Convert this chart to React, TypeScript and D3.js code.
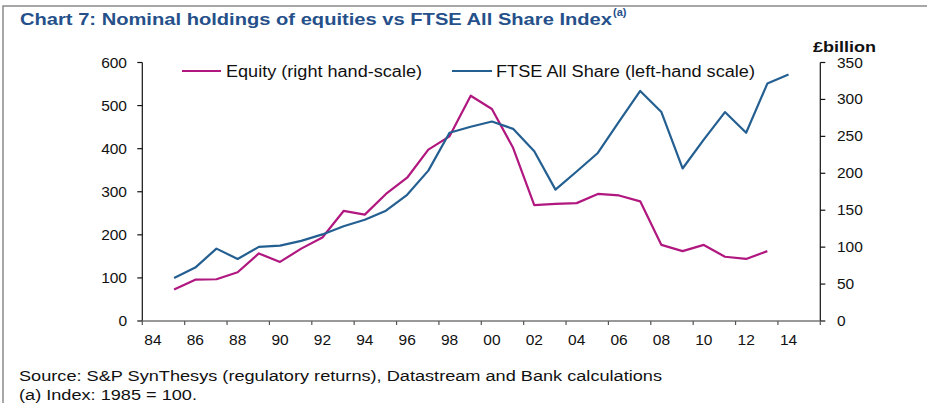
import React from 'react';
import * as d3 from 'd3';

// years the series are reported for
const years = [
  1985, 1986, 1987, 1988, 1989, 1990, 1991, 1992, 1993, 1994, 1995, 1996, 1997, 1998, 1999,
  2000, 2001, 2002, 2003, 2004, 2005, 2006, 2007, 2008, 2009, 2010, 2011, 2012, 2013, 2014,
];

// FTSE All Share index, 1985 = 100 (left-hand scale)
const ftse = [
  100, 124, 168, 144, 172, 175, 186, 201, 220, 235, 256, 293, 349, 437, 451,
  463, 446, 394, 305, 347, 390, 463, 534, 485, 354, 421, 485, 437, 551, 572,
];

// equity holdings, £billion (right-hand scale), no 2014 value
const equity = [
  42.5, 56, 56.5, 66, 91.5, 80, 98, 113, 149, 144, 172, 194, 232, 250, 305,
  287, 234.5, 157, 158.6, 159.6, 172, 170, 162, 103, 94.6, 103, 87, 84, 94.6,
];

const leftTicks = [0, 100, 200, 300, 400, 500, 600];
const rightTicks = [0, 50, 100, 150, 200, 250, 300, 350];
const yearTicks = d3.range(1984, 2017, 2);

const W = 927;
const H = 403;
const FONT = '"Liberation Sans", Arial, sans-serif';
const BLUE = '#245f91';
const MAGENTA = '#b0177f';

export default function App() {
  const x = d3.scaleLinear().domain([1984, 2016]).range([142.3, 820.3]);
  const yL = d3.scaleLinear().domain([0, 600]).range([321, 62.5]);
  const yR = d3.scaleLinear().domain([0, 350]).range([321, 62.5]);

  const ftseLine = d3
    .line<number>()
    .x((_, i) => x(years[i] + 0.5))
    .y((d) => yL(d));
  const equityLine = d3
    .line<number>()
    .x((_, i) => x(years[i] + 0.5))
    .y((d) => yR(d));

  return (
    <svg
      width={W}
      height={H}
      style={{ position: 'absolute', left: 0, top: 0, background: '#fff' }}
      fontFamily={FONT}
    >
      {/* frame */}
      <path d={`M3,${H} V6 H${W}`} fill="none" stroke="#8a8a8a" strokeWidth={1.5} />

      <text x={20} y={25} fontSize={16.5} fontWeight="bold" fill="#25508a" textLength={592} lengthAdjust="spacingAndGlyphs">
        Chart 7: Nominal holdings of equities vs FTSE All Share Index
      </text>
      <text x={613} y={16} fontSize={11} fontWeight="bold" fill="#25508a">
        (a)
      </text>

      <text x={813} y={52} fontSize={15} fontWeight="bold" fill="#111" textLength={63} lengthAdjust="spacingAndGlyphs">
        £billion
      </text>

      {/* legend */}
      <line x1={182} x2={221} y1={71} y2={71} stroke={MAGENTA} strokeWidth={2.2} />
      <text x={226} y={77} fontSize={16} fill="#111" textLength={196} lengthAdjust="spacingAndGlyphs">
        Equity (right hand-scale)
      </text>
      <line x1={452} x2={492} y1={71} y2={71} stroke={BLUE} strokeWidth={2.2} />
      <text x={496} y={77} fontSize={16} fill="#111" textLength={259} lengthAdjust="spacingAndGlyphs">
        FTSE All Share (left-hand scale)
      </text>

      {/* left axis */}
      <line x1={x(1984)} x2={x(1984)} y1={yL(600)} y2={yL(0)} stroke="#111" strokeWidth={1.2} />
      {leftTicks.map((t) => (
        <g key={`l${t}`}>
          <line x1={x(1984) - 5} x2={x(1984)} y1={yL(t)} y2={yL(t)} stroke="#111" strokeWidth={1.2} />
          <text x={127} y={yL(t) + 5} fontSize={15.5} textAnchor="end" fill="#111">
            {t}
          </text>
        </g>
      ))}

      {/* right axis */}
      <line x1={x(2016)} x2={x(2016)} y1={yR(350)} y2={yR(0)} stroke="#111" strokeWidth={1.2} />
      {rightTicks.map((t) => (
        <g key={`r${t}`}>
          <line x1={x(2016)} x2={x(2016) + 5} y1={yR(t)} y2={yR(t)} stroke="#111" strokeWidth={1.2} />
          <text x={837} y={yR(t) + 5} fontSize={15.5} fill="#111">
            {t}
          </text>
        </g>
      ))}

      {/* x axis */}
      <line x1={x(1984)} x2={x(2016)} y1={yL(0)} y2={yL(0)} stroke="#777" strokeWidth={1.5} />
      {yearTicks.map((t) => (
        <g key={`x${t}`}>
          <line x1={x(t)} x2={x(t)} y1={yL(0)} y2={yL(0) + 4} stroke="#555" strokeWidth={1.2} />
          {t < 2016 && (
            <text x={x(t + 0.5)} y={345} fontSize={15.5} textAnchor="middle" fill="#111">
              {String(t).slice(2)}
            </text>
          )}
        </g>
      ))}

      {/* series */}
      <path d={equityLine(equity) ?? ''} fill="none" stroke={MAGENTA} strokeWidth={2.2} strokeLinejoin="round" />
      <path d={ftseLine(ftse) ?? ''} fill="none" stroke={BLUE} strokeWidth={2.2} strokeLinejoin="round" />

      {/* notes */}
      <text x={19} y={381} fontSize={15.5} fill="#111" textLength={643} lengthAdjust="spacingAndGlyphs">
        Source: S&amp;P SynThesys (regulatory returns), Datastream and Bank calculations
      </text>
      <text x={19} y={400} fontSize={15.5} fill="#111" textLength={178} lengthAdjust="spacingAndGlyphs">
        (a) Index: 1985 = 100.
      </text>
    </svg>
  );
}
